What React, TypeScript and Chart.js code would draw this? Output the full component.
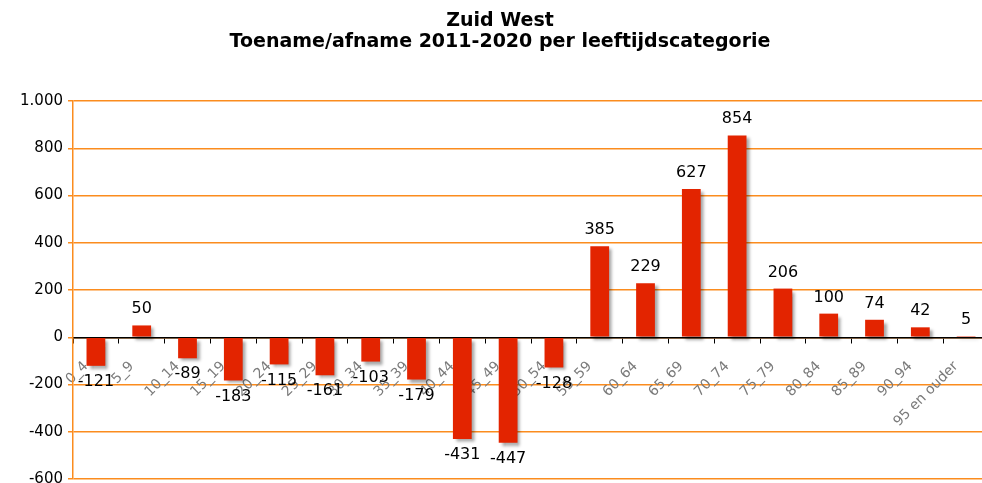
import React, { useEffect, useRef } from 'react';
import { Chart, registerables } from 'chart.js';

Chart.register(...registerables);

const titleLines = ['Zuid West', 'Toename/afname 2011-2020 per leeftijdscategorie'];
const categories = [
  '0_4', '5_9', '10_14', '15_19', '20_24', '25_29', '30_34', '35_39', '40_44', '45_49',
  '50_54', '55_59', '60_64', '65_69', '70_74', '75_79', '80_84', '85_89', '90_94', '95 en ouder',
];
const values = [-121, 50, -89, -183, -115, -161, -103, -179, -431, -447, -128, 385, 229, 627, 854, 206, 100, 74, 42, 5];
const yMin = -600;
const yMax = 1000;
const yStep = 200;

const FONT = '"DejaVu Sans", Verdana, sans-serif';
const CANVAS_W = 994;
const CANVAS_H = 483;

function fmt(v: number): string {
  const s = Math.abs(v).toString().replace(/\B(?=(\d{3})+(?!\d))/g, '.');
  return (v < 0 ? '-' : '') + s;
}

export default function App() {
  const ref = useRef<HTMLCanvasElement | null>(null);

  useEffect(() => {
    document.body.style.margin = '0';
    const canvas = ref.current;
    if (!canvas) return;

    const shadowPlugin = {
      id: 'barShadow',
      beforeDatasetsDraw(chart: any) {
        const ctx = chart.ctx;
        ctx.save();
        ctx.shadowColor = 'rgba(0,0,0,0.35)';
        ctx.shadowBlur = 3;
        ctx.shadowOffsetX = 3;
        ctx.shadowOffsetY = 3;
      },
      afterDatasetsDraw(chart: any) {
        chart.ctx.restore();
      },
    };

    const labelsPlugin = {
      id: 'valueLabels',
      afterDraw(chart: any) {
        const ctx = chart.ctx;
        const meta = chart.getDatasetMeta(0);
        ctx.save();
        ctx.font = `16px ${FONT}`;
        ctx.fillStyle = '#000';
        ctx.textAlign = 'center';
        meta.data.forEach((bar: any, i: number) => {
          const v = values[i];
          if (v >= 0) {
            ctx.textBaseline = 'alphabetic';
            ctx.fillText(fmt(v), bar.x, bar.y - 12);
          } else {
            ctx.textBaseline = 'top';
            ctx.fillText(fmt(v), bar.x, bar.y + 8);
          }
        });
        ctx.font = `bold 19px ${FONT}`;
        ctx.textBaseline = 'middle';
        ctx.fillText(titleLines[0], 500, 21);
        ctx.fillText(titleLines[1], 500, 42);
        ctx.restore();
      },
    };

    const chart = new Chart(canvas, {
      type: 'bar',
      data: {
        labels: categories,
        datasets: [
          {
            data: values,
            backgroundColor: '#e32400',
            borderWidth: 0,
            barPercentage: 0.41,
            categoryPercentage: 1,
          },
        ],
      },
      options: {
        responsive: false,
        animation: false,
        layout: { padding: { top: 101, left: 0, right: 0, bottom: 4 } },
        plugins: {
          legend: { display: false },
          title: { display: false },
          tooltip: { enabled: false },
        },
        scales: {
          x: {
            position: { y: 0 } as any,
            z: 1,
            offset: true,
            grid: {
              offset: true,
              drawOnChartArea: false,
              drawTicks: true,
              tickLength: 5,
              color: '#000',
              lineWidth: 1,
            },
            border: { color: '#000', width: 1.5 },
            ticks: {
              autoSkip: false,
              minRotation: 45,
              maxRotation: 45,
              color: '#7a7a7a',
              font: { family: FONT, size: 14 },
              padding: 16,
              labelOffset: -10,
            },
          },
          y: {
            min: yMin,
            max: yMax,
            afterFit(scale: any) {
              scale.width = 73;
              scale.paddingTop = 0;
              scale.paddingBottom = 0;
            },
            grid: {
              color: '#fb8c1e',
              lineWidth: 1.5,
              tickLength: 5,
            },
            border: { color: '#fb8c1e', width: 1.5 },
            ticks: {
              stepSize: yStep,
              color: '#000',
              font: { family: FONT, size: 15 },
              padding: 5,
              callback: (v: any) => fmt(Number(v)),
            },
          },
        },
      },
      plugins: [shadowPlugin, labelsPlugin],
    });

    return () => chart.destroy();
  }, []);

  return (
    <div style={{ width: 982, height: CANVAS_H, overflow: 'hidden' }}>
      <canvas
        ref={ref}
        width={CANVAS_W}
        height={CANVAS_H}
        style={{ width: CANVAS_W, height: CANVAS_H, display: 'block' }}
      />
    </div>
  );
}
